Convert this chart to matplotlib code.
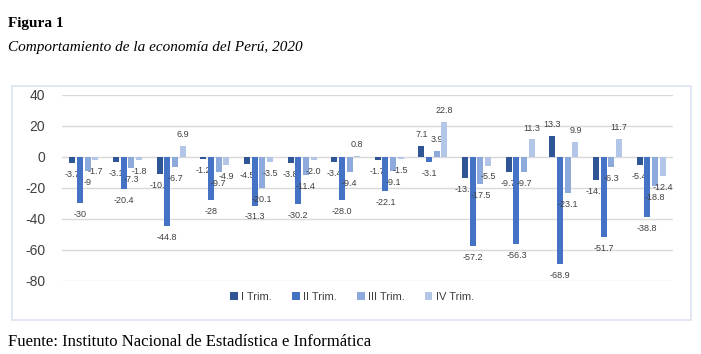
import numpy as np
import matplotlib
matplotlib.use('Agg')
import matplotlib.pyplot as plt
from matplotlib.patches import Rectangle

plt.rcParams['axes.unicode_minus'] = False

# trimestres 2020, 14 actividades economicas (sin etiquetas en el eje)
series = ['I Trim.', 'II Trim.', 'III Trim.', 'IV Trim.']
trim1 = [-3.7, -3.1, -10.8, -1.2, -4.5, -3.8, -3.4, -1.7, 7.1, -13.5, -9.7, 13.3, -14.8, -5.4]
trim2 = [-30, -20.4, -44.8, -28, -31.3, -30.2, -28.0, -22.1, -3.1, -57.2, -56.3, -68.9, -51.7, -38.8]
trim3 = [-9, -7.3, -6.7, -9.7, -20.1, -11.4, -9.4, -9.1, 3.9, -17.5, -9.7, -23.1, -6.3, -18.8]
trim4 = [-1.7, -1.8, 6.9, -4.9, -3.5, -2.0, 0.8, -1.5, 22.8, -5.5, 11.3, 9.9, 11.7, -12.4]
labels = [
    ['-3.7', '-3.1', '-10.8', '-1.2', '-4.5', '-3.8', '-3.4', '-1.7', '7.1', '-13.5', '-9.7', '13.3', '-14.8', '-5.4'],
    ['-30', '-20.4', '-44.8', '-28', '-31.3', '-30.2', '-28.0', '-22.1', '-3.1', '-57.2', '-56.3', '-68.9', '-51.7', '-38.8'],
    ['-9', '-7.3', '-6.7', '-9.7', '-20.1', '-11.4', '-9.4', '-9.1', '3.9', '-17.5', '-9.7', '-23.1', '-6.3', '-18.8'],
    ['-1.7', '-1.8', '6.9', '-4.9', '-3.5', '-2.0', '0.8', '-1.5', '22.8', '-5.5', '11.3', '9.9', '11.7', '-12.4'],
]
yticks = [40, 20, 0, -20, -40, -60, -80]

colors = ['#2F5597', '#4472C4', '#8EA9DB', '#B4C6E7']

fig = plt.figure(figsize=(7.01, 3.54), dpi=100)
fig.patch.set_facecolor('white')

# marco del grafico
fig.patches.append(Rectangle((12 / 701, 1 - 320 / 354), 679 / 701, 234 / 354,
                             transform=fig.transFigure, fill=False,
                             edgecolor='#DCE4F2', linewidth=1.2))

ax = fig.add_axes([62 / 701, 1 - 281 / 354, 611 / 701, 186 / 354])

x = np.arange(len(trim1))
slot = 0.176
width = 0.138
data = [trim1, trim2, trim3, trim4]
for i, vals in enumerate(data):
    pos = x + (i - 1.5) * slot
    ax.bar(pos, vals, width, color=colors[i], label=series[i], zorder=3)
    for px, v, lab in zip(pos, vals, labels[i]):
        off = 5 if v >= 0 else -5
        ax.annotate(lab, (px, v), xytext=(0, off), textcoords='offset points',
                    ha='center', va='bottom' if v >= 0 else 'top',
                    fontsize=6.5, color='#404040', family='Liberation Sans')

ax.set_xlim(-0.5, len(trim1) - 0.5)
ax.set_ylim(-80, 40)
ax.set_yticks(yticks)
ax.set_xticks([])
ax.tick_params(axis='y', length=0, labelsize=10, labelcolor='#404040', pad=12)
for lab in ax.get_yticklabels():
    lab.set_family('Liberation Sans')
ax.grid(axis='y', color='#D9D9D9', linewidth=1, zorder=0)
for s in ax.spines.values():
    s.set_visible(False)

fig.legend(loc='center', bbox_to_anchor=(352 / 701, 1 - 297 / 354), ncol=4,
           frameon=False, handlelength=0.7, handleheight=0.7, handletextpad=0.3,
           columnspacing=1.8, prop={'family': 'Liberation Sans', 'size': 8},
           labelcolor='#404040')

fig.text(8 / 701, 1 - 27 / 354, 'Figura 1', fontsize=11, fontweight='bold',
         family='Liberation Serif', va='baseline')
fig.text(8 / 701, 1 - 51 / 354, 'Comportamiento de la economía del Perú, 2020',
         fontsize=11, style='italic', family='Liberation Serif', va='baseline')
fig.text(8 / 701, 1 - 346 / 354, 'Fuente: Instituto Nacional de Estadística e Informática',
         fontsize=12, family='Liberation Serif', va='baseline')

fig.savefig('out.png', dpi=100)
